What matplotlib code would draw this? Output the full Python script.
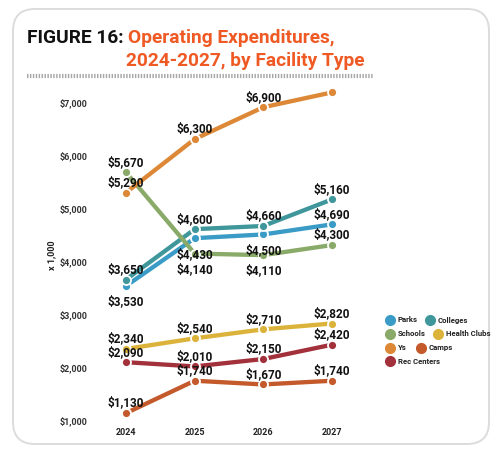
import matplotlib
matplotlib.use("Agg")
import matplotlib.pyplot as plt
from matplotlib.patches import FancyBboxPatch
from matplotlib.lines import Line2D

years = [2024, 2025, 2026, 2027]
series_names = ["Parks", "Colleges", "Schools", "Health Clubs", "Ys", "Camps", "Rec Centers"]
parks = [3530, 4430, 4500, 4690]
colleges = [3650, 4600, 4660, 5160]
schools = [5670, 4140, 4110, 4300]
health_clubs = [2340, 2540, 2710, 2820]
ys = [5290, 6300, 6900, 7180]
camps = [1130, 1740, 1670, 1740]
rec_centers = [2090, 2010, 2150, 2420]
yticks = [1000, 2000, 3000, 4000, 5000, 6000, 7000]

colors = {
    "Parks": "#3a9cc6",
    "Colleges": "#3f979c",
    "Schools": "#89aa68",
    "Health Clubs": "#dcb33a",
    "Ys": "#dc8836",
    "Camps": "#c45a2b",
    "Rec Centers": "#a3313b",
}
data = {
    "Parks": parks, "Colleges": colleges, "Schools": schools,
    "Health Clubs": health_clubs, "Ys": ys, "Camps": camps, "Rec Centers": rec_centers,
}
# labels drawn below the point (others above); Ys 2027 has no label
below = {("Parks", 0), ("Parks", 1), ("Parks", 2), ("Schools", 1), ("Schools", 2)}
nolabel = {("Ys", 3)}

plt.rcParams['font.family'] = ['Roboto', 'DejaVu Sans']

fig = plt.figure(figsize=(5, 4.53), dpi=100)
fig.patch.set_facecolor("white")

# rounded border
box = FancyBboxPatch((0.13, 0.09), 4.76, 4.35, boxstyle="round,pad=0,rounding_size=0.22",
                     transform=fig.dpi_scale_trans, facecolor="none", edgecolor="#dcdcdc",
                     linewidth=1.4, zorder=-1)
fig.patches.append(box)

# title
fig.text(27/500, 1-43/453, "FIGURE 16:", fontsize=13.8, fontweight="bold", color="#111111",
         ha="left", va="baseline")
fig.text(128/500, 1-43/453, "Operating Expenditures,", fontsize=13.8, fontweight="bold",
         color="#ef5a24", ha="left", va="baseline")
fig.text(126/500, 1-66/453, "2024-2027, by Facility Type", fontsize=13.8, fontweight="bold",
         color="#ef5a24", ha="left", va="baseline")
fig.add_artist(Line2D([27/500, 374/500], [1-76/453, 1-76/453], transform=fig.transFigure,
                      color="#a8a8a8", linewidth=3, linestyle=(0, (0.35, 0.35))))

ax = fig.add_axes([100/500, 28/453, 260/500, (425-85)/453])
ax.set_xlim(2023.62, 2027.41)
ax.set_ylim(905, 7320)
ax.patch.set_alpha(0)
for s in ax.spines.values():
    s.set_visible(False)

for name in series_names:
    vals = data[name]
    ax.plot(years, vals, color=colors[name], linewidth=3.1, solid_capstyle="round", zorder=2)
    ax.plot(years, vals, linestyle="none", marker="o", markersize=6.5,
            markerfacecolor=colors[name], markeredgecolor="white", markeredgewidth=1.3, zorder=3)
    for i, (x, v) in enumerate(zip(years, vals)):
        if (name, i) in nolabel:
            continue
        dy = -11.5 if (name, i) in below else 7.2
        ax.annotate(f"${v:,}", (x, v), xytext=(0, dy), textcoords="offset points",
                    ha="center", va="center", fontsize=8.5, fontweight="bold",
                    color="#111111", zorder=4)

ax.set_xticks(years)
ax.set_xticklabels([str(y) for y in years], fontsize=6.5, fontweight="bold", color="#222222")
ax.set_yticks(yticks)
ax.set_yticklabels([f"${v:,}" for v in yticks], fontsize=6.5, fontweight="bold", color="#333333")
ax.tick_params(axis="both", length=0)
ax.tick_params(axis="y", pad=9)
ax.tick_params(axis="x", pad=2.5)
ax.set_ylabel("x 1,000", fontsize=6.5, fontweight="bold", color="#222222", labelpad=2)

# legend (manual flow layout)
leg_items = [
    ("Parks", 390, 320), ("Colleges", 430, 320),
    ("Schools", 390, 333.5), ("Health Clubs", 437.5, 333.5),
    ("Ys", 390, 347.5), ("Camps", 420.5, 347.5),
    ("Rec Centers", 390, 361),
]
for name, px, py in leg_items:
    fig.add_artist(Line2D([px/500], [1-py/453], transform=fig.transFigure, marker="o",
                          markersize=7, color=colors[name], linestyle="none"))
    fig.text((px+8)/500, 1-py/453, name, fontsize=5.6, fontweight="bold", color="#222222",
             ha="left", va="center")

fig.savefig("out.png", dpi=100, facecolor="white")
